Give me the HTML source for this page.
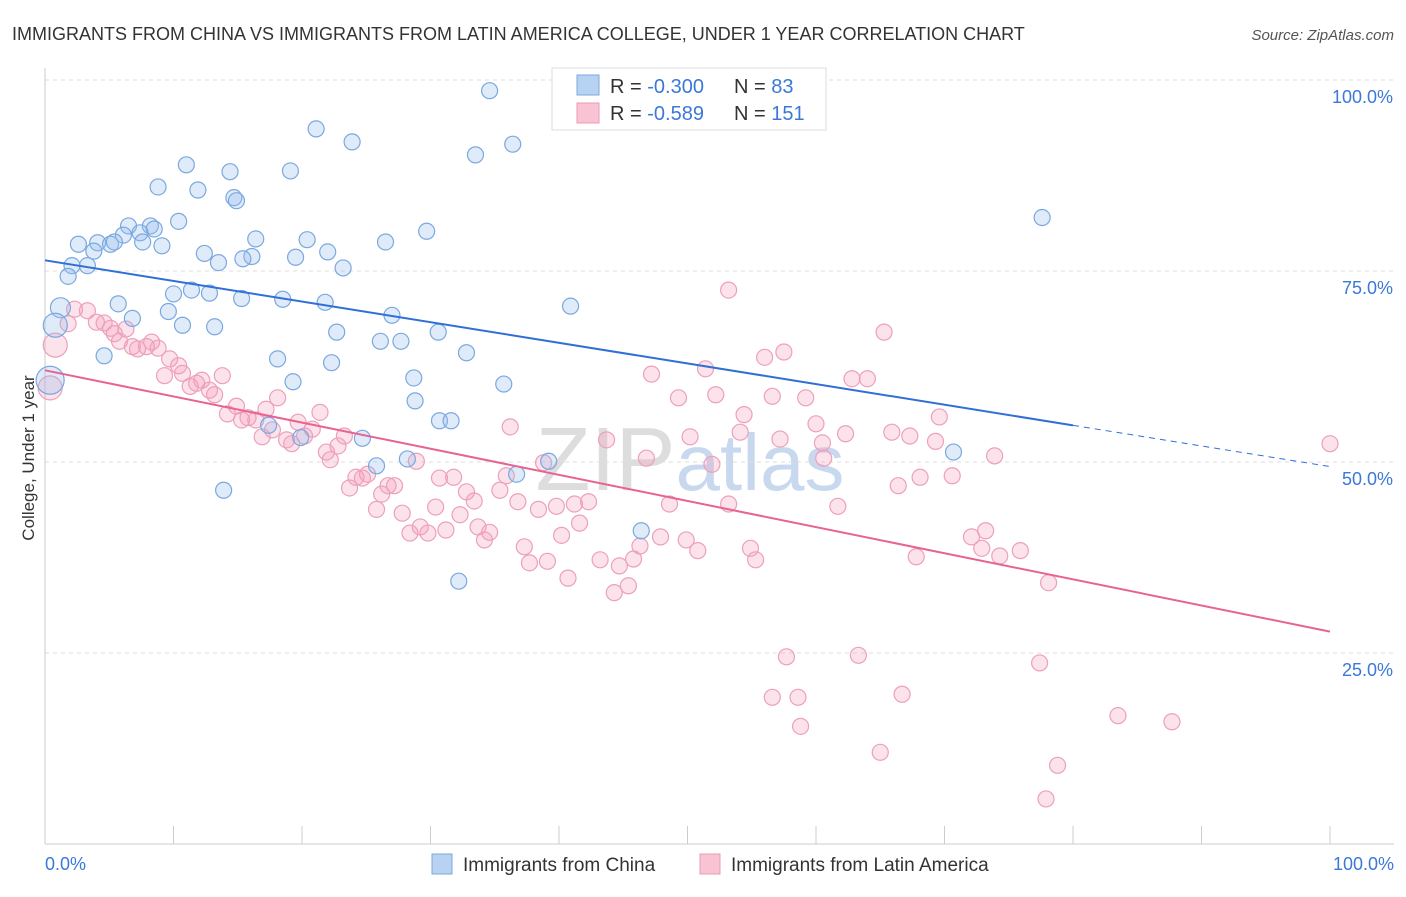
<!DOCTYPE html>
<html><head><meta charset="utf-8"><style>
body{margin:0;background:#fff;font-family:"Liberation Sans",sans-serif;}
svg text{font-family:"Liberation Sans",sans-serif;}
</style></head><body>
<svg id="chart" width="1406" height="892" xmlns="http://www.w3.org/2000/svg">
<text x="12" y="40" font-size="18" fill="#333">IMMIGRANTS FROM CHINA VS IMMIGRANTS FROM LATIN AMERICA COLLEGE, UNDER 1 YEAR CORRELATION CHART</text>
<text x="1394" y="40" font-size="15" fill="#555" font-style="italic" text-anchor="end">Source: ZipAtlas.com</text>
<text x="690" y="490" font-size="90" fill="#ddd" text-anchor="middle" font-family="Liberation Serif">ZIP<tspan fill="#c8d8ee" font-family="Liberation Sans" font-size="80">atlas</tspan></text>
<g id="grid"></g><g id="axes"></g><g id="pts"></g><g id="trend"></g>
<text transform="translate(34,458) rotate(-90)" font-size="17" fill="#333" text-anchor="middle">College, Under 1 year</text>
<g>
<rect x="552" y="68" width="274" height="62" fill="#fff" stroke="#ddd"/>
<rect x="577" y="75" width="22" height="20" fill="#b8d2f2" stroke="#7aa8e0"/>
<rect x="577" y="103" width="22" height="20" fill="#f8c4d4" stroke="#ec9ab4"/>
<text x="610" y="93" font-size="20" fill="#333">R = <tspan fill="#3b78d8">-0.300</tspan></text>
<text x="734" y="93" font-size="20" fill="#333">N = <tspan fill="#3b78d8"> 83</tspan></text>
<text x="610" y="120" font-size="20" fill="#333">R = <tspan fill="#3b78d8"> -0.589</tspan></text>
<text x="734" y="120" font-size="20" fill="#333">N = <tspan fill="#3b78d8">151</tspan></text>
</g>
<g>
<rect x="432" y="854" width="20" height="20" fill="#b8d2f2" stroke="#7aa8e0"/>
<text x="463" y="871" font-size="19" fill="#333">Immigrants from China</text>
<rect x="700" y="854" width="20" height="20" fill="#f8c4d4" stroke="#ec9ab4"/>
<text x="731" y="871" font-size="19" fill="#333">Immigrants from Latin America</text>
</g>
</svg>
<script>
const yTicks=[100,75,50,25];
const yTickLabels=["100.0%","75.0%","50.0%","25.0%"];
const xTickLabels=["0.0%","100.0%"];
const chinaX=[34.6,21.1,23.9,33.5,36.4,11.0,14.4,19.1,8.8,11.9,14.7,14.9,10.4,6.5,8.2,8.5,7.4,6.1,7.6,29.7,2.6,4.1,5.1,5.4,9.1,16.4,20.4,26.5,12.4,3.8,16.1,19.5,22.0,13.5,23.2,3.3,2.1,1.8,15.4,10.0,12.8,11.4,15.3,18.5,21.8,5.7,1.2,9.6,40.9,27.0,10.7,13.2,6.8,22.7,30.6,26.1,27.7,18.1,4.6,22.3,32.8,19.3,28.7,35.7,28.8,30.7,31.6,24.7,17.4,19.9,25.8,28.2,39.2,36.7,13.9,46.4,32.2,77.6,70.7,0.4,0.8];
const chinaY=[98.6,93.6,91.9,90.2,91.6,88.9,88.0,88.1,86.0,85.6,84.6,84.2,81.5,80.9,80.9,80.5,80.0,79.7,78.8,80.2,78.5,78.7,78.5,78.8,78.3,79.2,79.1,78.8,77.3,77.6,76.9,76.8,77.5,76.1,75.4,75.7,75.7,74.3,76.6,72.0,72.1,72.5,71.4,71.3,70.9,70.7,70.2,69.7,70.4,69.2,67.9,67.7,68.8,67.0,67.0,65.8,65.8,63.5,63.9,63.0,64.3,60.5,61.0,60.2,58.0,55.4,55.4,53.1,54.8,53.2,49.5,50.4,50.1,48.4,46.3,41.0,34.4,82.0,51.3,60.7,67.9];
const chinaR=[8,8,8,8,8,8,8,8,8,8,8,8,8,8,8,8,8,8,8,8,8,8,8,8,8,8,8,8,8,8,8,8,8,8,8,8,8,8,8,8,8,8,8,8,8,8,10,8,8,8,8,8,8,8,8,8,8,8,8,8,8,8,8,8,8,8,8,8,8,8,8,8,8,8,8,8,8,8,8,14,12];
const latX=[0.8,0.4,1.8,2.3,3.3,4.0,4.6,5.1,5.4,6.3,5.8,6.8,7.2,7.9,8.3,8.8,9.3,9.7,10.4,10.7,11.3,11.8,12.2,12.8,13.2,13.8,14.2,14.9,15.3,15.8,16.4,16.9,17.2,17.7,18.1,18.8,19.2,19.7,20.2,20.8,21.4,21.9,22.2,22.8,23.3,23.7,24.2,24.7,25.1,25.8,26.2,26.7,27.2,27.8,28.4,28.9,29.2,29.8,30.4,30.7,31.2,31.8,32.3,32.8,33.4,33.7,34.2,34.6,35.4,35.9,36.2,36.8,37.3,37.7,38.4,38.8,39.1,39.8,40.2,40.7,41.2,41.6,42.3,43.2,43.7,44.3,44.7,45.4,45.8,46.3,46.8,47.2,47.9,48.6,49.3,49.9,50.2,50.8,51.4,51.9,52.2,53.2,53.2,54.1,54.4,54.9,55.3,56.0,56.6,57.2,57.5,57.7,56.6,58.6,58.8,59.2,60.0,60.5,60.6,61.7,62.3,62.8,63.3,64.0,65.0,65.3,65.9,66.4,66.7,67.3,67.8,68.1,69.3,69.6,70.6,72.1,72.9,73.2,73.9,74.3,75.9,77.4,77.9,78.1,78.8,83.5,87.7,100.0];
const latY=[65.3,59.7,68.1,70.0,69.8,68.3,68.2,67.5,66.8,67.4,65.8,65.1,64.8,65.1,65.7,64.9,61.3,63.5,62.6,61.6,59.9,60.3,60.7,59.4,58.8,61.3,56.3,57.3,55.5,55.8,55.5,53.3,56.9,54.2,58.4,52.9,52.4,55.2,53.4,54.3,56.5,51.3,50.3,52.1,53.4,46.6,48.0,47.9,48.4,43.8,45.8,46.9,46.9,43.3,40.7,50.1,41.5,40.7,44.1,47.9,41.1,48.0,43.1,46.1,44.9,41.5,39.8,40.8,46.3,48.2,54.6,44.8,38.9,36.8,43.8,49.9,37.0,44.2,40.4,34.8,44.5,42.0,44.8,37.2,52.9,32.9,36.4,33.8,37.3,39.0,50.5,61.5,40.2,44.5,58.4,39.8,53.3,38.4,62.2,49.7,58.8,44.5,72.5,53.9,56.2,38.7,37.2,63.7,58.6,53.0,64.4,24.5,19.2,19.2,15.4,58.4,55.0,52.5,50.5,44.2,53.7,60.9,24.7,60.9,12.0,67.0,53.9,46.9,19.6,53.4,37.6,48.0,52.7,55.9,48.2,40.2,38.7,41.0,50.8,37.7,38.4,23.7,5.9,34.2,10.3,16.8,16.0,52.4];
const X=v=>45+v*12.85, Y=v=>844-v*7.64;
const NS="http://www.w3.org/2000/svg";
function mk(t,a,p){const e=document.createElementNS(NS,t);for(const k in a)e.setAttribute(k,a[k]);p.appendChild(e);return e;}
const grid=document.getElementById('grid'),axes=document.getElementById('axes'),pts=document.getElementById('pts'),tr=document.getElementById('trend');
yTicks.forEach((v,i)=>{const l=mk('line',{x1:45,x2:1394,y1:Y(v),y2:Y(v),stroke:'#ddd','stroke-dasharray':'4,4'},grid);


const t=mk('text',{x:1393,y:Y(v)+23,'font-size':18,fill:'#3b78d8','text-anchor':'end'},axes);t.textContent=yTickLabels[i];

});
const ax=mk('line',{x1:45,x2:45,y1:68,y2:844,stroke:'#ccc'},axes);


const bx=mk('line',{x1:45,x2:1394,y1:844,y2:844,stroke:'#ccc'},axes);


for(let i=0;i<=10;i++){const t=mk('line',{x1:X(i*10),x2:X(i*10),y1:826,y2:844,stroke:'#ccc'},axes);

}
[[0,'start',45],[1,'end',1394]].forEach(([i,a,x])=>{const t=mk('text',{x:x,y:870,'font-size':18,fill:'#3b78d8','text-anchor':a},axes);t.textContent=xTickLabels[i];

});
latX.forEach((x,i)=>{const c=mk('circle',{cx:X(x),cy:Y(latY[i]),r:i<2?12:8,fill:'rgba(244,160,188,0.3)',stroke:'#eda0ba','stroke-width':1.2},pts);

});
chinaX.forEach((x,i)=>{const c=mk('circle',{cx:X(x),cy:Y(chinaY[i]),r:chinaR[i],fill:'rgba(150,190,235,0.3)',stroke:'#7aa8e0','stroke-width':1.2},pts);

});
const bl=mk('line',{x1:X(0),y1:Y(76.4),x2:X(80),y2:Y(54.8),stroke:'#2f6fd6','stroke-width':2},tr);


const bd=mk('line',{x1:X(80),y1:Y(54.8),x2:X(100),y2:Y(49.4),stroke:'#2f6fd6','stroke-width':1,'stroke-dasharray':'6,5'},tr);


const pl=mk('line',{x1:X(0),y1:Y(62.0),x2:X(100),y2:Y(27.8),stroke:'#e8638f','stroke-width':2},tr);


</script>
</body></html>
